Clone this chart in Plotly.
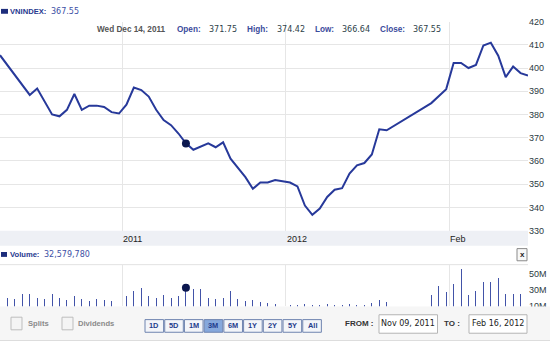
import plotly.graph_objects as go

W, H = 550, 364

# ---------------- data ----------------
dates = [
    "2011-11-09", "2011-11-10", "2011-11-11", "2011-11-14", "2011-11-15", "2011-11-16",
    "2011-11-17", "2011-11-18", "2011-11-21", "2011-11-22", "2011-11-23", "2011-11-24",
    "2011-11-25", "2011-11-28", "2011-11-29", "2011-11-30", "2011-12-01", "2011-12-02",
    "2011-12-05", "2011-12-06", "2011-12-07", "2011-12-08", "2011-12-09", "2011-12-12",
    "2011-12-13", "2011-12-14", "2011-12-15", "2011-12-16", "2011-12-19", "2011-12-20",
    "2011-12-21", "2011-12-22", "2011-12-23", "2011-12-26", "2011-12-27", "2011-12-28",
    "2011-12-29", "2011-12-30", "2012-01-03", "2012-01-04", "2012-01-05", "2012-01-06",
    "2012-01-09", "2012-01-10", "2012-01-11", "2012-01-12", "2012-01-13", "2012-01-16",
    "2012-01-17", "2012-01-18", "2012-01-19", "2012-01-20", "2012-01-30", "2012-01-31",
    "2012-02-01", "2012-02-02", "2012-02-03", "2012-02-06", "2012-02-07", "2012-02-08",
    "2012-02-09", "2012-02-10", "2012-02-13", "2012-02-14", "2012-02-15", "2012-02-16",
]
close = [
    405.5, 401.2, 397.0, 392.7, 388.4, 391.2,
    385.6, 380.0, 379.2, 382.0, 388.8, 382.0,
    383.8, 383.8, 383.2, 381.0, 380.4, 384.2,
    391.6, 390.5, 387.7, 382.0, 377.6, 375.4,
    371.8, 367.55, 364.8, 366.2, 367.6, 365.9,
    368.0, 361.0, 356.8, 353.0, 348.0, 350.7,
    350.7, 351.8, 350.7, 349.0, 340.8, 336.8,
    339.5, 344.5, 347.6, 348.3, 354.6, 358.1,
    359.1, 362.8, 373.6, 373.2, 384.9, 387.9,
    390.9, 402.2, 402.2, 400.0, 401.3, 409.7,
    410.9, 405.3, 396.1, 400.6, 397.8, 396.8,
]
volume_m = [
    22, 20, 18, 25, 25, 20,
    18, 25, 20, 17, 22, 19,
    16, 18, 17, 16, 20, 22,
    29, 32, 22, 20, 24, 20,
    22, 32.58, 31, 31, 20, 18,
    20, 28, 18, 16, 17, 15,
    13, 12, 11, 10.5, 12, 11,
    10.5, 12, 11, 10.5, 12, 11,
    11, 13, 17, 15, 24, 35,
    27, 37, 56, 24, 29, 40,
    40, 45, 25, 25, 25, 22,
]

hover_date = "2011-12-14"
hover_label = "Wed Dec 14, 2011"
ohlc_labels = ["Open:", "High:", "Low:", "Close:"]
ohlc_values = ["371.75", "374.42", "366.64", "367.55"]
index_name = "VNINDEX:"
index_value = "367.55"
volume_text = "32,579,780"

grid_dates = ["2011-12-01 10:00", "2012-01-02 10:00", "2012-02-01 10:00"]
grid_labels = ["2011", "2012", "Feb"]
price_ticks = list(range(330, 421, 10))
vol_ticks = [10, 30, 50]
vol_ticktext = ["10M", "30M", "50M"]
range_buttons = ["1D", "5D", "1M", "3M", "6M", "1Y", "2Y", "5Y", "All"]
selected_button = "3M"
from_date = "Nov 09, 2011"
to_date = "Feb 16, 2012"

# ---------------- helpers ----------------
def px(x):
    return x / W

def py(y):
    return 1 - y / H

NAVY = "#26388f"
LINE = "#27399a"
hi = dates.index(hover_date)

fig = go.Figure()
fig.add_trace(go.Scatter(x=dates, y=close, mode="lines",
                         line=dict(color=LINE, width=2), xaxis="x", yaxis="y",
                         hoverinfo="skip"))
fig.add_trace(go.Scatter(x=[dates[hi]], y=[close[hi]], mode="markers",
                         marker=dict(size=8, color="#0c184f"), xaxis="x", yaxis="y",
                         hoverinfo="skip"))
fig.add_trace(go.Bar(x=dates, y=volume_m, xaxis="x2", yaxis="y2",
                     width=0.13 * 86400000, marker=dict(color="#4253a8", line=dict(width=0)),
                     hoverinfo="skip"))
fig.add_trace(go.Scatter(x=[dates[hi]], y=[volume_m[hi]], mode="markers",
                         marker=dict(size=8, color="#0c184f"), xaxis="x2", yaxis="y2",
                         hoverinfo="skip"))

xr = ["2011-11-09", "2012-02-16"]
plot_right = 528
axis_common = dict(type="date", range=xr, rangebreaks=[dict(bounds=["sat", "mon"])],
                   tickvals=grid_dates, showticklabels=False, showgrid=True,
                   gridcolor="#e6e6e6", gridwidth=1, zeroline=False, showline=False,
                   ticks="", domain=[0, px(plot_right)])

fig.update_layout(
    width=W, height=H, autosize=False,
    margin=dict(l=0, r=0, t=0, b=0),
    paper_bgcolor="white", plot_bgcolor="white",
    showlegend=False, hovermode=False,
    xaxis=dict(anchor="y", **axis_common),
    xaxis2=dict(anchor="y2", matches="x", **axis_common),
    yaxis=dict(domain=[py(232), py(17)], range=[330, 420], side="right",
               tickvals=price_ticks, showgrid=True, gridcolor="#e6e6e6",
               zeroline=False, showline=False, ticks="", anchor="x",
               tickfont=dict(family="Liberation Sans, Arial", size=9, color="#2b3a42")),
    yaxis2=dict(domain=[py(310), py(267)], range=[9, 62], side="right",
                tickvals=vol_ticks, ticktext=vol_ticktext, showgrid=False,
                zeroline=False, showline=False, ticks="", anchor="x2",
                tickfont=dict(family="Liberation Sans, Arial", size=9, color="#2b3a42")),
    bargap=0,
)

shapes = []
ann = []

def rect(x0, y0, x1, y1, fill, line=None, lw=0, layer="above"):
    shapes.append(dict(type="rect", xref="paper", yref="paper",
                       x0=px(x0), x1=px(x1), y0=py(y1), y1=py(y0),
                       fillcolor=fill, line=dict(color=line or fill, width=lw), layer=layer))

def hline(x0, x1, y, color, lw=1):
    shapes.append(dict(type="line", xref="paper", yref="paper",
                       x0=px(x0), x1=px(x1), y0=py(y), y1=py(y),
                       line=dict(color=color, width=lw), layer="above"))

def text(x, y, s, size=8, color="#333", family="Liberation Sans, Arial", bold=False,
         xanchor="left"):
    ann.append(dict(xref="paper", yref="paper", x=px(x), y=py(y), text=("<b>%s</b>" % s) if bold else s,
                    showarrow=False, xanchor=xanchor, yanchor="middle",
                    font=dict(size=size, color=color, family=family), borderpad=0))

# header
rect(1, 4, 8, 9, "#1d2d7c")
text(9, 6.5, index_name, size=7.6, color=NAVY, bold=True)
text(50, 6.5, index_value, size=8, color="#3d4fa5", family="DejaVu Sans")

text(96, 24.7, hover_label, size=8.2, color="#555555", bold=True)
lab_x = [176, 246, 314, 379]
val_x = [208, 276, 341, 412]
for lx, vx, l, v in zip(lab_x, val_x, ohlc_labels, ohlc_values):
    text(lx, 24.7, l, size=8.2, color="#3b4b9c", bold=True)
    text(vx, 24.7, v, size=8, color="#2e3f4a", family="DejaVu Sans")

# x-label band
rect(0, 232, plot_right, 247.5, "#eef0f5", layer="below")
for d, l in zip(grid_dates, grid_labels):
    ann.append(dict(xref="x", yref="paper", x=d, y=py(240.4), text=l, showarrow=False,
                    xanchor="left", yanchor="middle", xshift=-1,
                    font=dict(size=9, color="#222", family="Liberation Sans, Arial")))

# volume header
rect(1, 254, 7, 259, "#1d2d7c")
text(9, 256.5, "Volume:", size=7.6, color=NAVY, bold=True)
text(43, 256.5, volume_text, size=8, color="#3d4fa5", family="DejaVu Sans")
rect(517, 250.5, 527, 263, "#f8f8f8", line="#8a8a8a", lw=1)
text(522, 257, "x", size=8, color="#222", bold=True, xanchor="center")
hline(0, plot_right, 267, "#e2e2e2")

# controls band
rect(0, 310, 550, 345, "#f6f6f6")
hline(0, 550, 345, "#dddddd")
rect(11, 321, 22, 334, "#f4f4f4", line="#bdbdbd", lw=1)
text(27, 327.5, "Splits", size=7.6, color="#8a8a8a", bold=True)
rect(62, 321, 73, 334, "#f4f4f4", line="#bdbdbd", lw=1)
text(77, 327.5, "Dividends", size=7.6, color="#8a8a8a", bold=True)

for i, b in enumerate(range_buttons):
    x0 = 145 + i * 19.72
    sel = (b == selected_button)
    rect(x0, 323.5, x0 + 18.6, 336.5, "#86a8dc" if sel else "#f3f5f9",
         line="#6f84b0", lw=1)
    text(x0 + 9.3, 330, b, size=7.4, color="#1f3c8c", bold=True, xanchor="center")

text(344, 327.5, "FROM :", size=8, color="#333", bold=True)
rect(379, 318.5, 437.5, 337.5, "white", line="#b5b5b5", lw=1)
text(408.2, 328, from_date, size=8, color="#222", family="DejaVu Sans", xanchor="center")
text(443, 327.5, "TO :", size=8, color="#333", bold=True)
rect(469, 318.5, 527, 337.5, "white", line="#b5b5b5", lw=1)
text(498, 328, to_date, size=8, color="#222", family="DejaVu Sans", xanchor="center")

fig.update_layout(shapes=shapes, annotations=ann)
fig.write_html("out.html", config={"displayModeBar": False, "staticPlot": True},
               post_script="document.body.style.margin='0px';")
